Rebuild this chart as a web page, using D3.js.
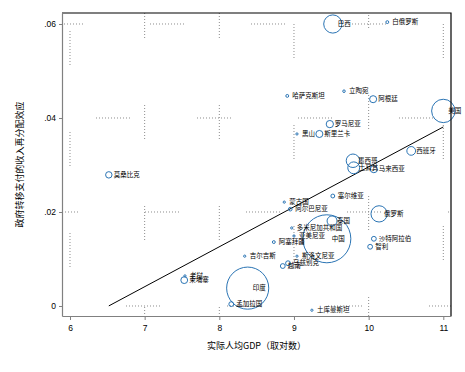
<!DOCTYPE html>
<html>
<head>
<meta charset="utf-8">
<script src="https://cdn.jsdelivr.net/npm/d3@7"></script>
<style>
  body { margin: 0; background: #fff; }
  svg { display: block; }
</style>
</head>
<body>
<svg width="465" height="372"></svg>
<script>
// 各国数据：名称、实际人均GDP（对数）、纵轴值、人口（百万，决定圆圈大小）
let names = ["巴西", "白俄罗斯", "哈萨克斯坦", "立陶宛", "阿根廷", "罗马尼亚", "黑山", "斯里兰卡",
  "美国", "西班牙", "墨西哥", "土耳其", "马来西亚", "塞尔维亚", "蒙古国", "阿尔巴尼亚",
  "泰国", "中国", "俄罗斯", "多米尼加共和国", "亚美尼亚", "阿塞拜疆", "吉尔吉斯", "斯洛文尼亚",
  "越南", "乌兹别克", "印度", "孟加拉国", "土库曼斯坦", "沙特阿拉伯", "智利", "莫桑比克",
  "柬埔寨", "老挝"];
let gdpLog = [9.52, 10.25, 8.91, 9.67, 10.06, 9.48, 9.04, 9.34,
  11.0, 10.57, 9.79, 9.80, 10.07, 9.52, 8.87, 8.95,
  9.51, 9.44, 10.14, 8.97, 9.0, 8.73, 8.34, 9.04,
  8.85, 8.92, 8.38, 8.16, 9.24, 10.07, 10.02, 6.52,
  7.53, 7.54];
let share = [0.0600, 0.0604, 0.0447, 0.0457, 0.0440, 0.0387, 0.0366, 0.0366,
  0.0415, 0.0330, 0.0309, 0.0294, 0.0291, 0.0234, 0.0221, 0.0206,
  0.0181, 0.0143, 0.0196, 0.0166, 0.0149, 0.0136, 0.0106, 0.0106,
  0.0085, 0.0091, 0.0038, 0.0004, -0.0009, 0.0143, 0.0126, 0.0279,
  0.0055, 0.0064];
let pop = [200, 5, 5, 4, 30, 32, 3, 30,
  330, 46, 110, 85, 30, 9, 3, 8,
  60, 1390, 160, 3, 3, 5, 3, 2,
  14, 14, 1070, 14, 3, 14, 14, 25,
  28, 3];

let xTicks = [6, 7, 8, 9, 10, 11];
let yTicks = [0, 0.02, 0.04, 0.06];
let yTickLabels = ["0", ".02", ".04", ".06"];
let fitCoef = [-0.0554, 0.0085]; // 线性拟合：截距、斜率

let s = d3.select("svg");
let pLeft = 62, pRight = 451, pTop = 13, pBottom = 316;

let x = d3.scaleLinear().domain([5.893, 11.103]).range([pLeft, pRight]);
let y = d3.scaleLinear().domain([-0.00213, 0.06234]).range([pBottom, pTop]);
let r = d3.scaleSqrt().domain([0, 1390]).range([0, 24]);

// 点状网格线（一段点线，一段空白）
let dash = [];
for (let i = 0; i < 12; i++) dash.push(1, 2);
dash[dash.length - 1] += 65;
let dashStr = dash.join(" ");

let hOffsets = [37, 18, 67, 13];
yTicks.forEach((t, i) => {
    s.append("line")
        .attr("x1", pLeft).attr("x2", pRight)
        .attr("y1", y(t)).attr("y2", y(t))
        .attr("stroke", "#8c8c8c")
        .attr("stroke-width", 1)
        .attr("stroke-dasharray", dashStr)
        .attr("stroke-dashoffset", hOffsets[i]);
});
let vOffsets = [83, 9, 9, 90, 19, 90];
xTicks.forEach((t, i) => {
    s.append("line")
        .attr("x1", x(t)).attr("x2", x(t))
        .attr("y1", pTop).attr("y2", pBottom)
        .attr("stroke", "#8c8c8c")
        .attr("stroke-width", 1)
        .attr("stroke-dasharray", dashStr)
        .attr("stroke-dashoffset", vOffsets[i]);
});

// 拟合线
let xr = d3.extent(gdpLog);
s.append("line")
    .attr("x1", x(xr[0])).attr("y1", y(fitCoef[0] + fitCoef[1] * xr[0]))
    .attr("x2", x(xr[1])).attr("y2", y(fitCoef[0] + fitCoef[1] * xr[1]))
    .attr("stroke", "#000")
    .attr("stroke-width", 1);

// 圆圈
names.forEach((n, i) => {
    s.append("circle")
        .attr("cx", x(gdpLog[i]))
        .attr("cy", y(share[i]))
        .attr("r", Math.max(1.1, r(pop[i])))
        .attr("fill", "none")
        .attr("stroke", "#2a74b4")
        .attr("stroke-width", 1);
});

// 标签
names.forEach((n, i) => {
    s.append("text")
        .attr("x", x(gdpLog[i]) + 5)
        .attr("y", y(share[i]))
        .attr("dy", "0.35em")
        .text(n)
        .attr("style", "font-family: 'Noto Sans CJK SC'; font-size: 6.5px")
        .attr("fill", "#000");
});

// 边框：上、右为黑色
s.append("path")
    .attr("d", "M " + pLeft + " " + pTop + " L " + pRight + " " + pTop + " L " + pRight + " " + pBottom)
    .attr("fill", "none")
    .attr("stroke", "#000")
    .attr("stroke-width", 1.2);

// 坐标轴
let xAxis = d3.axisBottom(x).tickValues(xTicks).tickSize(4).tickSizeOuter(0).tickFormat(d3.format("d"));
let gx = s.append("g").attr("transform", "translate(0," + pBottom + ")").call(xAxis);
let yAxis = d3.axisLeft(y).tickValues(yTicks).tickSize(3).tickSizeOuter(0)
    .tickFormat((d, i) => yTickLabels[i]);
let gy = s.append("g").attr("transform", "translate(" + pLeft + ",0)").call(yAxis);

[gx, gy].forEach(g => {
    g.select(".domain").attr("stroke", "#808080").attr("stroke-width", 1.2);
    g.selectAll(".tick line").attr("stroke", "#808080");
    g.selectAll(".tick text")
        .attr("fill", "#000")
        .attr("style", "font-family: 'Liberation Sans', Arial; font-size: 8.5px");
});
gx.selectAll(".tick text").attr("dy", "0.9em").attr("y", 7);
gy.selectAll(".tick text").attr("x", -6);

// 轴标题
s.append("text")
    .attr("x", (pLeft + pRight) / 2)
    .attr("y", 349)
    .attr("text-anchor", "middle")
    .text("实际人均GDP（取对数）")
    .attr("style", "font-family: 'Noto Sans CJK SC'; font-size: 9px")
    .attr("fill", "#000");

s.append("text")
    .attr("transform", "translate(23," + (pTop + pBottom) / 2 + ") rotate(-90)")
    .attr("text-anchor", "middle")
    .text("政府转移支付的收入再分配效应")
    .attr("style", "font-family: 'Noto Sans CJK SC'; font-size: 9px")
    .attr("fill", "#000");
</script>
</body>
</html>
